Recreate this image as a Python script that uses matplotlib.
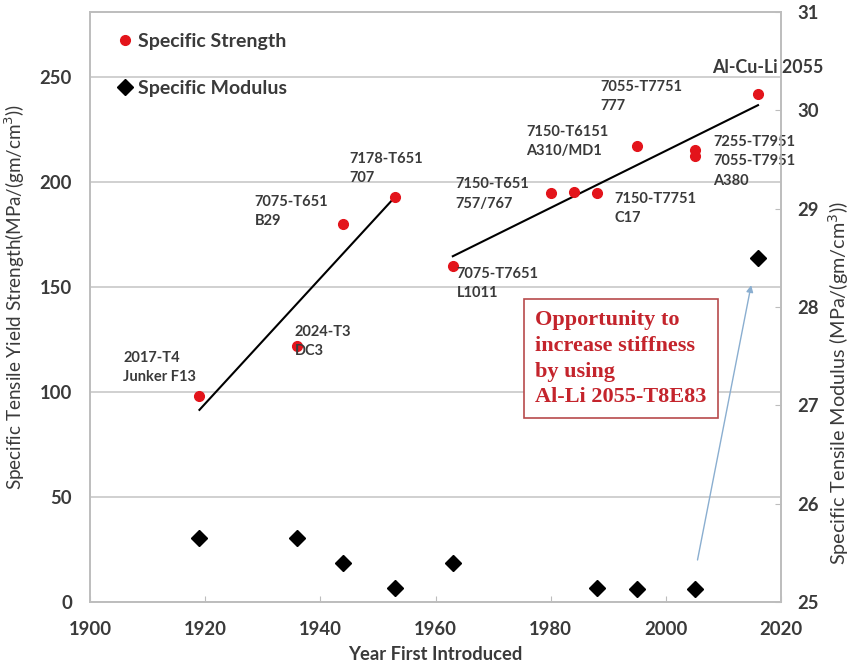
import numpy as np
import matplotlib
matplotlib.use("Agg")
import matplotlib.pyplot as plt

# specific strength (left axis)
years_str = [1919, 1936, 1944, 1953, 1963, 1980, 1984, 1988, 1995, 2005, 2005, 2016]
strength = [98, 122, 180, 193, 160, 195, 195.5, 195, 217, 215.5, 212.5, 242]

# specific modulus (right axis)
years_mod = [1919, 1936, 1944, 1953, 1963, 1988, 1995, 2005, 2016]
modulus = [25.65, 25.65, 25.4, 25.14, 25.4, 25.14, 25.13, 25.13, 28.5]

# trend groups (index ranges into the strength data)
early = slice(0, 4)
late = slice(4, 12)

alloy_labels = [
    ("2017-T4\nJunker F13", 1905.8, 119.5),
    ("2024-T3\nDC3", 1935.5, 132),
    ("7075-T651\nB29", 1928.6, 194),
    ("7178-T651\n707", 1945.0, 214.5),
    ("7075-T7651\nL1011", 1963.7, 159.5),
    ("7150-T651\n757/767", 1963.4, 202.2),
    ("7150-T6151\nA310/MD1", 1975.7, 227.2),
    ("7055-T7751\n777", 1988.7, 248.7),
    ("7150-T7751\nC17", 1991.0, 195.3),
    ("7255-T7951\n7055-T7951\nA380", 2008.2, 222.3),
]

plt.rcParams['font.family'] = ['Lato', 'DejaVu Sans']
txt_color = '#3a3a3a'
red = '#e3141b'

fig = plt.figure(figsize=(8.55, 6.69), dpi=100)
ax = fig.add_axes([0.1053, 0.1001, 0.8082, 0.8819])
ax2 = ax.twinx()

ax.set_xlim(1900, 2020)
ax.set_ylim(0, 281)
ax2.set_ylim(25, 31)

ax.set_yticks([0, 50, 100, 150, 200, 250])
ax.set_xticks(range(1900, 2021, 20))
ax2.set_yticks(range(25, 32))
ax.yaxis.grid(True, color='#c8c8c8', linewidth=1.2)
ax.set_axisbelow(True)

for a in (ax, ax2):
    for s in a.spines.values():
        s.set_color('#bdbdbd')
        s.set_linewidth(1.2)
ax.tick_params(axis='y', length=0, pad=13, labelsize=13.3, labelcolor=txt_color)
ax.tick_params(axis='x', direction='in', length=4, color='#bdbdbd', pad=14,
               labelsize=13.3, labelcolor=txt_color)
ax2.tick_params(axis='y', direction='in', length=4, color='#bdbdbd', pad=11.5,
                labelsize=13.3, labelcolor=txt_color)
for lab in ax.get_xticklabels() + ax.get_yticklabels() + ax2.get_yticklabels():
    lab.set_fontweight('bold')

# trend lines: least squares fits of each strength group
for g in (early, late):
    xs = np.array(years_str[g])
    ys = np.array(strength[g])
    k, b = np.polyfit(xs, ys, 1)
    xe = np.array([xs.min(), xs.max()])
    ax.plot(xe, k * xe + b, color='black', linewidth=1.5, zorder=3)

h1, = ax.plot(years_str, strength, 'o', color=red, markersize=7, zorder=4,
              label='Specific Strength')
h2, = ax2.plot(years_mod, modulus, 'D', color='black', markersize=8, zorder=4,
               label='Specific Modulus')

for text, x, y in alloy_labels:
    ax.text(x, y, text, fontsize=10.5, fontweight='bold', color=txt_color,
            va='top', ha='left', linespacing=1.47, zorder=5)
ax.text(2008.0, 254.8, "Al-Cu-Li 2055", fontsize=12.8, fontweight='bold',
        color=txt_color, va='center', ha='left')

ax.text(1977.3, 139.0, "Opportunity to\nincrease stiffness\nby using\nAl-Li 2055-T8E83",
        family='Liberation Serif', fontsize=16, fontweight='bold', color='#c4242c',
        va='top', ha='left', linespacing=1.38,
        bbox=dict(boxstyle='square,pad=0.5', facecolor='white', edgecolor='#b84a4c',
                  linewidth=1.2), zorder=6)

ax2.annotate("", xy=(2014.9, 28.25), xytext=(2005.4, 25.4),
             arrowprops=dict(arrowstyle='-|>', color='#8aaed0', linewidth=1,
                             mutation_scale=10), zorder=6)

ax.legend(handles=[h1, h2], loc='upper left', frameon=False, labelspacing=1.55,
          handlelength=0.8, handletextpad=0.3, borderaxespad=0, borderpad=0.4,
          prop={'size': 14, 'weight': 'bold'}, labelcolor=txt_color,
          bbox_to_anchor=(0.0275, 0.978))

ax.set_ylabel("Specific Tensile Yield Strength(MPa/(gm/cm$^3$))", fontsize=13.6,
              color=txt_color)
ax.yaxis.set_label_coords(-0.091, 0.517)
ax2.set_ylabel("Specific Tensile Modulus (MPa/(gm/cm$^3$))", fontsize=14.3,
               color=txt_color)
ax2.yaxis.set_label_coords(1.065, 0.371)
ax.set_xlabel("Year First Introduced", fontsize=13.2, fontweight='bold',
              color=txt_color)
ax.xaxis.set_label_coords(0.5, -0.074)

fig.savefig("out.png", dpi=100)
